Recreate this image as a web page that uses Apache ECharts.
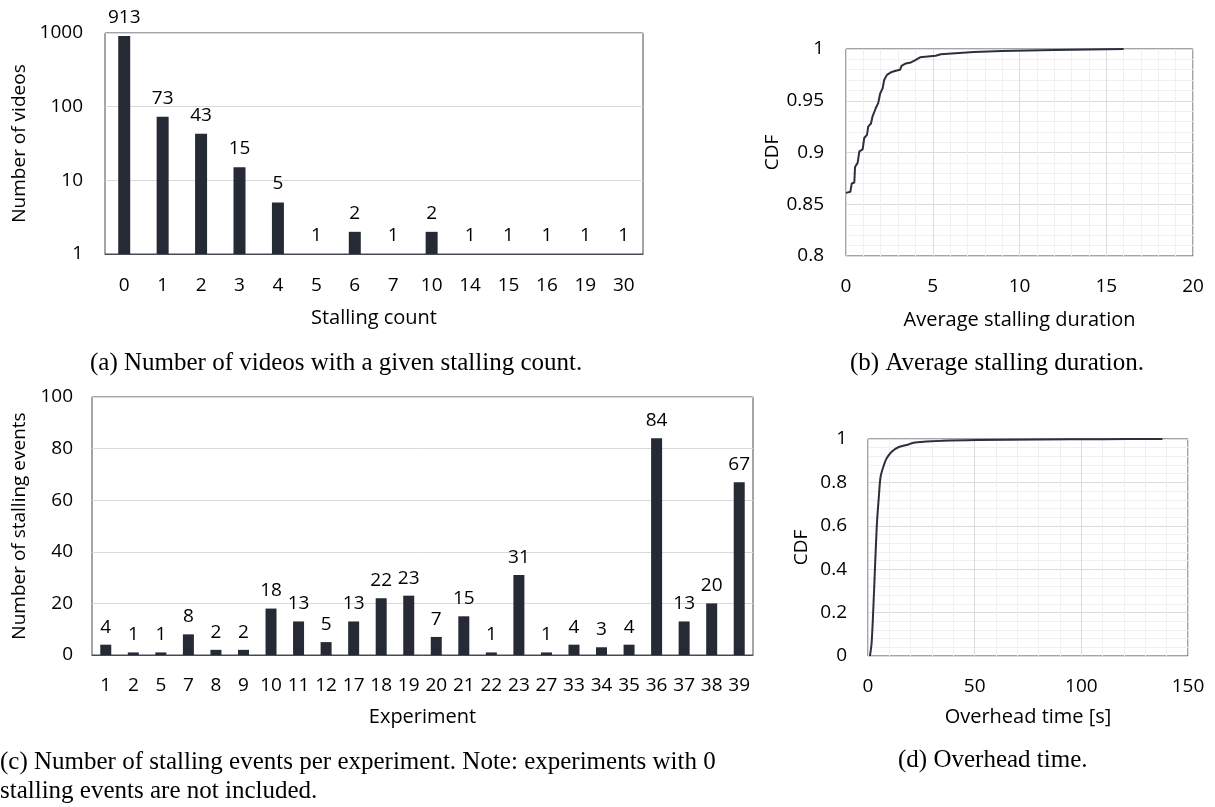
<!DOCTYPE html>
<html>
<head>
<meta charset="utf-8">
<title>Stalling statistics</title>
<script src="https://cdn.jsdelivr.net/npm/echarts@6/dist/echarts.min.js"></script>
<style>
  body { margin: 0; background: #fff; }
  #chart { width: 1215px; height: 807px; }
</style>
</head>
<body>
<div id="chart"></div>
<script>
// (a) videos per stalling count
const stallCounts = ['0', '1', '2', '3', '4', '5', '6', '7', '10', '14', '15', '16', '19', '30']
const videoNums = [913, 73, 43, 15, 5, 1, 2, 1, 2, 1, 1, 1, 1, 1]

// (b) average stalling duration CDF
const durX = [0, 0.25, 0.33, 0.48, 0.52, 0.67, 0.77, 0.96, 1.05, 1.21, 1.28, 1.44, 1.53, 1.72, 1.86, 1.97, 2.11, 2.2, 2.36, 2.59, 2.87, 3.12, 3.2, 3.45, 3.74, 3.97, 4.27, 5.17, 5.46, 7.37, 9.0, 12.0, 16.0]
const durCdf = [0.861, 0.862, 0.870, 0.871, 0.886, 0.890, 0.901, 0.903, 0.914, 0.917, 0.925, 0.928, 0.935, 0.943, 0.948, 0.957, 0.962, 0.970, 0.975, 0.9775, 0.979, 0.980, 0.9836, 0.986, 0.987, 0.989, 0.992, 0.9935, 0.995, 0.997, 0.998, 0.999, 1.0]

// (c) stalling events per experiment
const experiments = ['1', '2', '5', '7', '8', '9', '10', '11', '12', '17', '18', '19', '20', '21', '22', '23', '27', '33', '34', '35', '36', '37', '38', '39']
const stallEvents = [4, 1, 1, 8, 2, 2, 18, 13, 5, 13, 22, 23, 7, 15, 1, 31, 1, 4, 3, 4, 84, 13, 20, 67]

// (d) overhead time CDF
const ovX = [0.9, 1.7, 2.8, 4.1, 5.2, 5.9, 7.2, 8.75, 11.1, 14.2, 18.1, 21.3, 27.5, 35.3, 51, 80, 110, 138]
const ovCdf = [0, 0.06, 0.29, 0.596, 0.75, 0.826, 0.872, 0.911, 0.941, 0.962, 0.972, 0.983, 0.988, 0.992, 0.995, 0.998, 0.999, 1.0]

const font = 'Open Sans'
const dark = '#252a35'
const frame = '#454a54'
const capFont = '25px "Liberation Serif"'

const tickText = { fontFamily: font, fontSize: 19, color: '#000' }
const xNameText = { fontFamily: font, fontSize: 20, color: '#000' }
const yNameText = { fontFamily: font, fontSize: 19, color: '#000' }

const chartInstance = echarts.init(document.getElementById('chart'))

// light grids for the CDF plots
function cdfSplit() {
  return {
    splitLine: { show: true, lineStyle: { color: '#dcdcdc', width: 1 } },
    minorTick: { show: false, splitNumber: 5 },
    minorSplitLine: { show: true, lineStyle: { color: '#f0f0f0', width: 1 } },
  }
}

const option = {
  animation: false,
  grid: [
    { left: 105, top: 33, width: 538, height: 221, show: true, borderColor: frame, borderWidth: 1 },
    { left: 846, top: 49, width: 347, height: 207, show: true, borderColor: frame, borderWidth: 1 },
    { left: 92, top: 397, width: 661, height: 258, show: true, borderColor: frame, borderWidth: 1 },
    { left: 868, top: 439, width: 320, height: 217, show: true, borderColor: frame, borderWidth: 1 },
  ],
  xAxis: [
    {
      gridIndex: 0, type: 'category', data: stallCounts,
      axisTick: { show: false },
      axisLine: { lineStyle: { color: frame } },
      axisLabel: Object.assign({ margin: 22, interval: 0 }, tickText),
      name: 'Stalling count', nameLocation: 'middle', nameGap: 54,
      nameTextStyle: xNameText,
    },
    Object.assign({
      gridIndex: 1, type: 'value', min: 0, max: 20, interval: 5,
      axisTick: { show: false },
      axisLine: { show: false },
      axisLabel: Object.assign({ margin: 21 }, tickText),
      name: 'Average stalling duration', nameLocation: 'middle', nameGap: 54,
      nameTextStyle: xNameText,
    }, cdfSplit()),
    {
      gridIndex: 2, type: 'category', data: experiments,
      axisTick: { show: false },
      axisLine: { lineStyle: { color: frame } },
      axisLabel: Object.assign({ margin: 21, interval: 0 }, tickText),
      name: 'Experiment', nameLocation: 'middle', nameGap: 52,
      nameTextStyle: xNameText,
    },
    Object.assign({
      gridIndex: 3, type: 'value', min: 0, max: 150, interval: 50,
      axisTick: { show: false },
      axisLine: { show: false },
      axisLabel: Object.assign({ margin: 21 }, tickText),
      name: 'Overhead time [s]', nameLocation: 'middle', nameGap: 51,
      nameTextStyle: xNameText,
    }, cdfSplit()),
  ],
  yAxis: [
    {
      gridIndex: 0, type: 'log', logBase: 10, min: 1, max: 1000,
      axisTick: { show: false },
      axisLine: { show: false },
      axisLabel: Object.assign({ margin: 22, formatter: v => String(v) }, tickText),
      splitLine: { lineStyle: { color: '#d9d9d9' } },
      name: 'Number of videos', nameLocation: 'middle', nameGap: 76,
      nameTextStyle: yNameText,
    },
    Object.assign({
      gridIndex: 1, type: 'value', min: 0.8, max: 1, interval: 0.05,
      axisTick: { show: false },
      axisLine: { show: false },
      axisLabel: Object.assign({ margin: 22 }, tickText),
      name: 'CDF', nameLocation: 'middle', nameGap: 61,
      nameTextStyle: yNameText,
    }, cdfSplit()),
    {
      gridIndex: 2, type: 'value', min: 0, max: 100, interval: 20,
      axisTick: { show: false },
      axisLine: { show: false },
      axisLabel: Object.assign({ margin: 19 }, tickText),
      splitLine: { lineStyle: { color: '#d9d9d9' } },
      name: 'Number of stalling events', nameLocation: 'middle', nameGap: 62,
      nameTextStyle: yNameText,
    },
    Object.assign({
      gridIndex: 3, type: 'value', min: 0, max: 1, interval: 0.2,
      axisTick: { show: false },
      axisLine: { show: false },
      axisLabel: Object.assign({ margin: 21 }, tickText),
      name: 'CDF', nameLocation: 'middle', nameGap: 57,
      nameTextStyle: yNameText,
    }, cdfSplit()),
  ],
  series: [
    {
      type: 'bar', xAxisIndex: 0, yAxisIndex: 0,
      data: videoNums, barWidth: 12,
      itemStyle: { color: dark },
      label: { show: true, position: 'top', distance: 9, fontFamily: font, fontSize: 19, color: '#000' },
    },
    {
      type: 'line', xAxisIndex: 1, yAxisIndex: 1,
      data: durX.map((x, i) => [x, durCdf[i]]),
      showSymbol: false,
      lineStyle: { color: '#2b303b', width: 2 },
    },
    {
      type: 'bar', xAxisIndex: 2, yAxisIndex: 2,
      data: stallEvents, barWidth: 11,
      itemStyle: { color: dark },
      label: { show: true, position: 'top', distance: 8, fontFamily: font, fontSize: 19, color: '#000' },
    },
    {
      type: 'line', xAxisIndex: 3, yAxisIndex: 3,
      data: ovX.map((x, i) => [x, ovCdf[i]]),
      showSymbol: false, smooth: 0.3,
      lineStyle: { color: '#2b303b', width: 2 },
    },
  ],
  // sub-figure captions
  graphic: [
    { type: 'text', left: 90, top: 351, style: { text: '(a) Number of videos with a given stalling count.', font: capFont, fill: '#000' } },
    { type: 'text', left: 850, top: 351, style: { text: '(b) Average stalling duration.', font: capFont, fill: '#000' } },
    { type: 'text', left: 0, top: 748, style: { text: '(c) Number of stalling events per experiment. Note: experiments with 0\nstalling events are not included.', font: capFont, lineHeight: 29, fill: '#000' } },
    { type: 'text', left: 898, top: 748, style: { text: '(d) Overhead time.', font: capFont, fill: '#000' } },
  ],
}

chartInstance.setOption(option)
</script>
</body>
</html>
